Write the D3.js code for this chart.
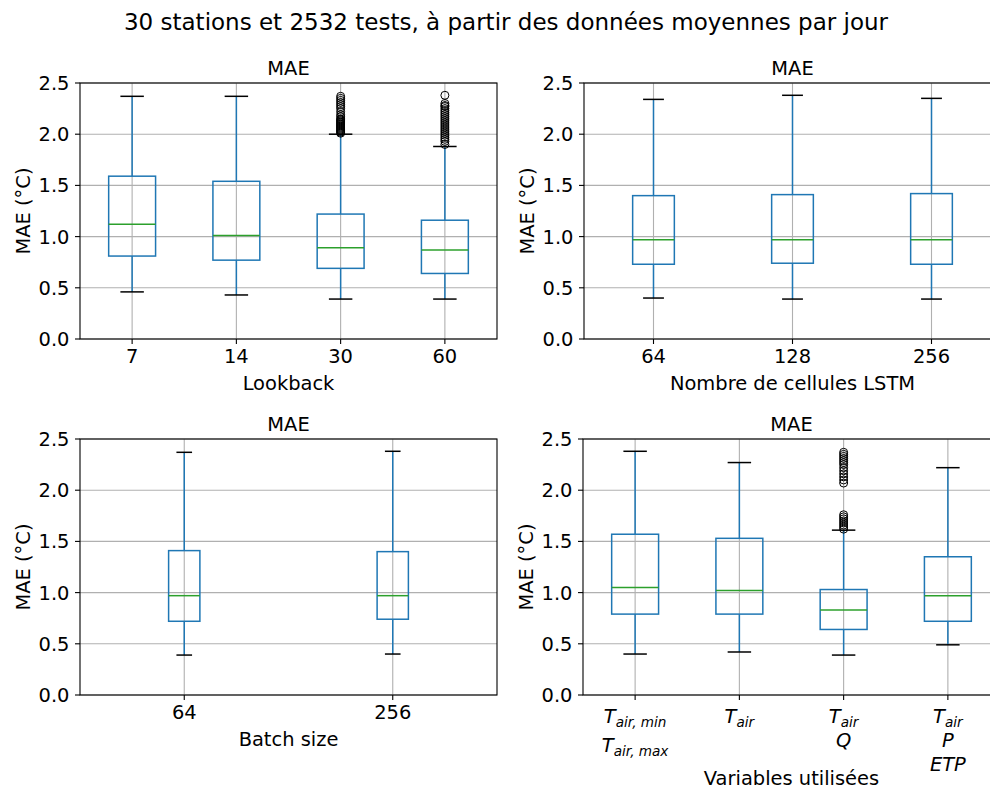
<!DOCTYPE html>
<html>
<head>
<meta charset="utf-8">
<script src="https://cdn.jsdelivr.net/npm/d3@7"></script>
<style>
html,body{margin:0;padding:0;background:#fff;}
svg{display:block;font-family:"DejaVu Sans",sans-serif;}
</style>
</head>
<body>
<svg id="chart" width="990" height="798"></svg>
<script>
// ---------- DATA ----------
const mainTitle = "30 stations et 2532 tests, à partir des données moyennes par jour";
const subTitle = "MAE";
const yLabel = "MAE (°C)";
const yTicks = [0.0, 0.5, 1.0, 1.5, 2.0, 2.5];

// Panel 1: Lookback
const lookbackCats = ["7", "14", "30", "60"];
const lookbackQ1 = [0.81, 0.77, 0.69, 0.64];
const lookbackMed = [1.12, 1.01, 0.89, 0.87];
const lookbackQ3 = [1.59, 1.54, 1.22, 1.16];
const lookbackLo = [0.46, 0.43, 0.39, 0.39];
const lookbackHi = [2.37, 2.37, 2.00, 1.88];
const lookbackOut = [
  [],
  [],
  [2.01,2.02,2.03,2.04,2.05,2.06,2.07,2.08,2.09,2.10,2.11,2.12,2.13,2.14,2.15,2.17,2.19,2.22,2.25,2.27,2.29,2.31,2.33,2.35,2.37],
  [1.90,1.93,1.95,1.97,1.99,2.01,2.03,2.05,2.07,2.09,2.11,2.13,2.15,2.17,2.19,2.21,2.23,2.25,2.27,2.28,2.30,2.38]
];

// Panel 2: Nombre de cellules LSTM
const lstmCats = ["64", "128", "256"];
const lstmQ1 = [0.73, 0.74, 0.73];
const lstmMed = [0.97, 0.97, 0.97];
const lstmQ3 = [1.40, 1.41, 1.42];
const lstmLo = [0.40, 0.39, 0.39];
const lstmHi = [2.34, 2.38, 2.35];
const lstmOut = [[], [], []];

// Panel 3: Batch size
const batchCats = ["64", "256"];
const batchQ1 = [0.72, 0.74];
const batchMed = [0.97, 0.97];
const batchQ3 = [1.41, 1.40];
const batchLo = [0.39, 0.40];
const batchHi = [2.37, 2.38];
const batchOut = [[], []];

// Panel 4: Variables utilisées (labels: lines of [base, subscript])
const varCats = [
  [["T","air, min"],["T","air, max"]],
  [["T","air"]],
  [["T","air"],["Q",""]],
  [["T","air"],["P",""],["ETP",""]]
];
const varQ1 = [0.79, 0.79, 0.64, 0.72];
const varMed = [1.05, 1.02, 0.83, 0.97];
const varQ3 = [1.57, 1.53, 1.03, 1.35];
const varLo = [0.40, 0.42, 0.39, 0.49];
const varHi = [2.38, 2.27, 1.61, 2.22];
const varOut = [
  [],
  [],
  [1.62,1.64,1.66,1.68,1.70,1.72,1.74,1.76,2.07,2.10,2.13,2.16,2.19,2.22,2.25,2.27,2.29,2.31,2.33,2.35,2.37],
  []
];

// ---------- DRAW ----------
const svg = d3.select("#chart");
const W = 417, H = 256;
const FS = 19.44;
const BLUE = "#1f77b4", GREEN = "#2ca02c", GRID = "#b0b0b0";

svg.append("text").attr("x", 506).attr("y", 30).attr("text-anchor", "middle")
  .attr("font-size", 23).attr("fill", "#000").text(mainTitle);

function panel(left, top, cats, q1, med, q3, lo, hi, out, xLabel, mathLabels, xLabelOff) {
  const g = svg.append("g").attr("transform", `translate(${left},${top})`);
  const n = cats.length;
  const x = d3.scaleLinear().domain([0.5, n + 0.5]).range([0, W]);
  const y = d3.scaleLinear().domain([0, 2.5]).range([H, 0]);
  const pos = d3.range(1, n + 1);
  const bw = Math.min(Math.max(0.15 * Math.max(n - 1, 1), 0.15), 0.5);
  const boxW = x(1 + bw) - x(1);

  // grid
  g.selectAll(".hg").data(yTicks).enter().append("line")
    .attr("x1", 0).attr("x2", W).attr("y1", d => y(d)).attr("y2", d => y(d))
    .attr("stroke", GRID).attr("stroke-width", 1.1);
  g.selectAll(".vg").data(pos).enter().append("line")
    .attr("x1", d => x(d)).attr("x2", d => x(d)).attr("y1", 0).attr("y2", H)
    .attr("stroke", GRID).attr("stroke-width", 1.1);

  const marks = g.append("g");
  pos.forEach((p, i) => {
    const cx = x(p);
    marks.append("line").attr("x1", cx).attr("x2", cx).attr("y1", y(q1[i])).attr("y2", y(lo[i]))
      .attr("stroke", BLUE).attr("stroke-width", 1.5);
    marks.append("line").attr("x1", cx).attr("x2", cx).attr("y1", y(q3[i])).attr("y2", y(hi[i]))
      .attr("stroke", BLUE).attr("stroke-width", 1.5);
    [lo[i], hi[i]].forEach(v => {
      marks.append("line").attr("x1", cx - boxW / 4).attr("x2", cx + boxW / 4)
        .attr("y1", y(v)).attr("y2", y(v)).attr("stroke", "#000").attr("stroke-width", 1.5);
    });
    marks.append("rect").attr("x", cx - boxW / 2).attr("y", y(q3[i]))
      .attr("width", boxW).attr("height", y(q1[i]) - y(q3[i]))
      .attr("fill", "none").attr("stroke", BLUE).attr("stroke-width", 1.5);
    marks.append("line").attr("x1", cx - boxW / 2).attr("x2", cx + boxW / 2)
      .attr("y1", y(med[i])).attr("y2", y(med[i])).attr("stroke", GREEN).attr("stroke-width", 1.5);
    marks.selectAll(null).data(out[i]).enter().append("circle")
      .attr("cx", cx).attr("cy", d => y(d)).attr("r", 4)
      .attr("fill", "none").attr("stroke", "#000").attr("stroke-width", 1);
  });

  // spines
  g.append("rect").attr("x", 0).attr("y", 0).attr("width", W).attr("height", H)
    .attr("fill", "none").attr("stroke", "#000").attr("stroke-width", 1.1);

  // y axis
  g.selectAll(".yt").data(yTicks).enter().append("line")
    .attr("x1", -5).attr("x2", 0).attr("y1", d => y(d)).attr("y2", d => y(d))
    .attr("stroke", "#000").attr("stroke-width", 1.1);
  g.selectAll(".yl").data(yTicks).enter().append("text")
    .attr("x", -10.5).attr("y", d => y(d)).attr("dy", "0.36em")
    .attr("text-anchor", "end").attr("font-size", FS).attr("fill", "#000")
    .text(d => d3.format(".1f")(d));

  // x ticks
  g.selectAll(".xt").data(pos).enter().append("line")
    .attr("x1", d => x(d)).attr("x2", d => x(d)).attr("y1", H).attr("y2", H + 5)
    .attr("stroke", "#000").attr("stroke-width", 1.1);

  if (!mathLabels) {
    g.selectAll(".xl").data(pos).enter().append("text")
      .attr("x", d => x(d)).attr("y", H + 24)
      .attr("text-anchor", "middle").attr("font-size", FS).attr("fill", "#000")
      .text((d, i) => cats[i]);
  } else {
    pos.forEach((p, i) => {
      const lines = cats[i];
      let yy = H + 28;
      lines.forEach((ln, k) => {
        if (k > 0) yy += ln[1] ? 29 : 24;
        const t = g.append("text").attr("x", x(p)).attr("y", yy)
          .attr("text-anchor", "middle").attr("font-size", FS).attr("font-style", "italic").attr("fill", "#000");
        t.append("tspan").text(ln[0]);
        if (ln[1]) {
          t.append("tspan").attr("font-size", 13.6).attr("dy", 3.5).text(ln[1]);
        }
      });
    });
  }

  // x label
  g.append("text").attr("x", W / 2).attr("y", H + xLabelOff)
    .attr("text-anchor", "middle").attr("font-size", FS).attr("fill", "#000").text(xLabel);

  // subplot title
  g.append("text").attr("x", W / 2).attr("y", -8)
    .attr("text-anchor", "middle").attr("font-size", FS).attr("fill", "#000").text(subTitle);

  // y label
  g.append("text").attr("transform", `translate(-50,${H / 2}) rotate(-90)`)
    .attr("text-anchor", "middle").attr("font-size", FS).attr("fill", "#000").text(yLabel);
}

panel(80, 83, lookbackCats, lookbackQ1, lookbackMed, lookbackQ3, lookbackLo, lookbackHi, lookbackOut, "Lookback", false, 51);
panel(584, 83, lstmCats, lstmQ1, lstmMed, lstmQ3, lstmLo, lstmHi, lstmOut, "Nombre de cellules LSTM", false, 51);
panel(80, 439, batchCats, batchQ1, batchMed, batchQ3, batchLo, batchHi, batchOut, "Batch size", false, 51);
panel(583, 439, varCats, varQ1, varMed, varQ3, varLo, varHi, varOut, "Variables utilisées", true, 90);
</script>
</body>
</html>
